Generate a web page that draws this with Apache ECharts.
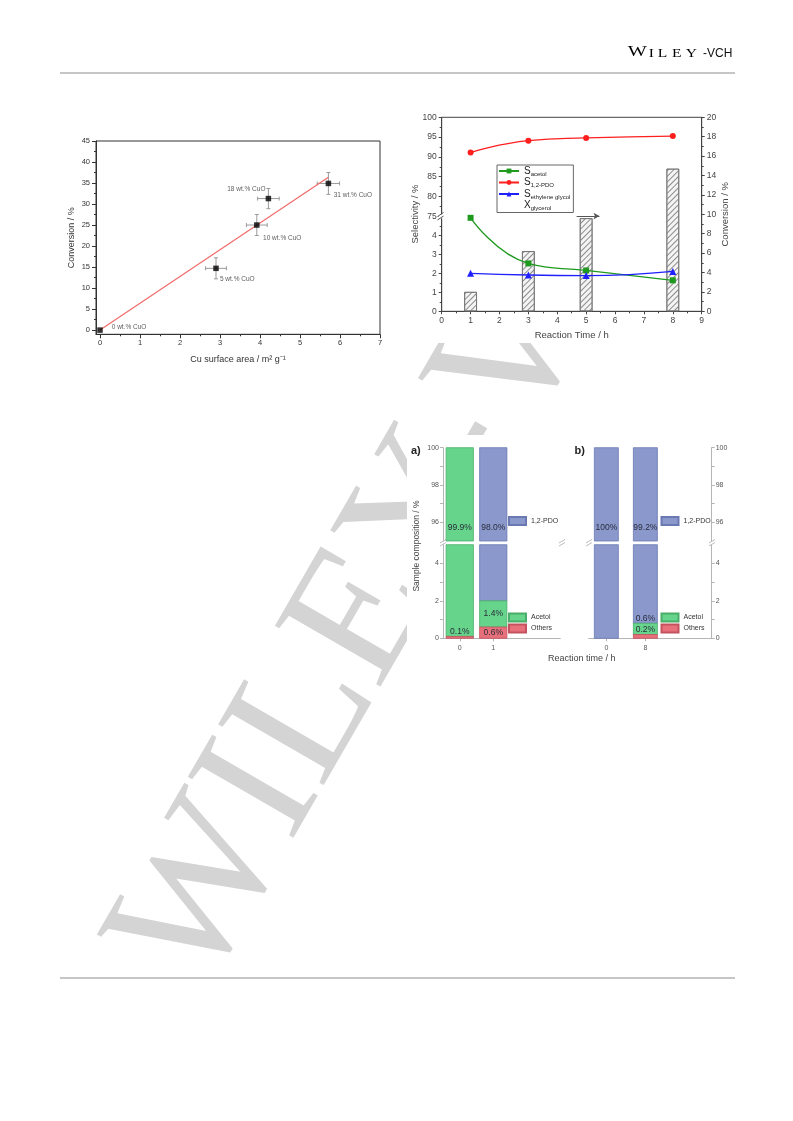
<!DOCTYPE html>
<html><head><meta charset="utf-8">
<script src="https://cdn.jsdelivr.net/npm/echarts@6/dist/echarts.min.js"></script>
<style>html,body{margin:0;padding:0;background:#fff}#c{width:793px;height:1121px}</style>
</head><body><div id="c"></div>
<script>
// ---------- Chart 1: conversion vs Cu surface area ----------
const cuArea = [0, 2.9, 3.92, 4.21, 5.71];
const conversion = [0, 14.7, 25.0, 31.3, 34.9];
const areaErr = [0, 0.26, 0.26, 0.27, 0.28];
const convErr = [0, 2.5, 2.5, 2.4, 2.6];
const sampleNames = ['0 wt.% CuO', '5 wt.% CuO', '10 wt.% CuO', '18 wt.% CuO', '31 wt.% CuO'];
const fitX = [0, 5.71];
const fitY = [0, 36.4];
const areaTicks = [0, 1, 2, 3, 4, 5, 6, 7];
const areaMinorTicks = [0.5, 1.5, 2.5, 3.5, 4.5, 5.5, 6.5];
const convTicks = [0, 5, 10, 15, 20, 25, 30, 35, 40, 45];
const convMinorTicks = [2.5, 7.5, 12.5, 17.5, 22.5, 27.5, 32.5, 37.5, 42.5];

// ---------- Chart 2: selectivity / conversion vs reaction time ----------
const times = [1, 3, 5, 8];
const sPDO = [91.1, 94.1, 94.8, 95.25];
const sAcetol = [4.92, 2.52, 2.15, 1.63];
const sEG = [2.0, 1.91, 1.88, 2.1];
const xGlycerol = [2.0, 6.2, 9.6, 14.7];
const arrowFrom = [4.67, 9.82];
const arrowTo = [5.46, 9.82];

// ---------- Chart 3: sample composition ----------
const catsA = ['0', '1'];
const othersA = [0.1, 0.6];
const acetolA = [99.9, 1.4];
const pdoA = [0, 98.0];
const catsB = ['0', '8'];
const othersB = [0, 0.2];
const acetolB = [0, 0.6];
const pdoB = [100, 99.2];
const compUpperTicks = [96, 98, 100];
const compUpperMinor = [96, 97, 98, 99, 100];
const compLowerTicks = [0, 2, 4];
const compLowerMinor = [0, 1, 2, 3, 4];

const FF = 'Liberation Sans';
const C_GREEN = '#66d48a', C_GREEN_B = '#4aae69';
const C_BLUE = '#8a98cc', C_BLUE_B = '#6a79b2';
const C_RED = '#e8707a', C_RED_B = '#c4525e';

const chart = echarts.init(document.getElementById('c'), null, {renderer: 'canvas', width: 793, height: 1121});

// ---- chart1 helpers
function errRender(params, api) {
  const x = api.value(0), y = api.value(1), ex = api.value(2), ey = api.value(3);
  if (!ex && !ey) return;
  const l = api.coord([x - ex, y]), r = api.coord([x + ex, y]);
  const t = api.coord([x, y + ey]), b = api.coord([x, y - ey]);
  const c = 2;
  const st = {stroke: '#9a9a9a', lineWidth: 1};
  const ln = (x1, y1, x2, y2) => ({type: 'line', shape: {x1, y1, x2, y2}, style: st});
  return {type: 'group', children: [
    ln(l[0], l[1], r[0], r[1]), ln(t[0], t[1], b[0], b[1]),
    ln(l[0], l[1] - c, l[0], l[1] + c), ln(r[0], r[1] - c, r[0], r[1] + c),
    ln(t[0] - c, t[1], t[0] + c, t[1]), ln(b[0] - c, b[1], b[0] + c, b[1])
  ]};
}
const sampleLabelPlacement = [
  {position: 'right', offset: [4, -2.6]},
  {position: 'right', offset: [-3.8, 11.2]},
  {position: 'right', offset: [-1.5, 13.2]},
  {position: 'left', offset: [4.8, -8.9]},
  {position: 'right', offset: [-2.4, 11.9]}
];

// ---- chart3 helpers
function segments(others, acetol, pdo, part) {
  return others.map((o, i) => {
    const a = acetol[i], p = pdo[i];
    if (part === 'Others') return [i, 0, o];
    if (part === 'Acetol') return [i, o, o + a];
    return [i, o + a, o + a + p];
  });
}
function segRender(barW, fill, stroke) {
  return function (params, api) {
    const x = api.value(0), s = api.value(1), e = api.value(2);
    if (!(e - s > 0)) return;
    const cs = params.coordSys;
    const p0 = api.coord([x, s]), p1 = api.coord([x, e]);
    const yTop = Math.max(Math.min(p0[1], p1[1]), cs.y);
    const yBot = Math.min(Math.max(p0[1], p1[1]), cs.y + cs.height);
    if (yBot <= yTop) return;
    return {type: 'rect', shape: {x: p0[0] - barW / 2, y: yTop, width: barW, height: yBot - yTop},
      style: {fill: fill, stroke: stroke, lineWidth: 0.8}};
  };
}
function fmtPct(v) { return (v === 100 ? '100' : v.toFixed(1)) + '%'; }
const txtStyle = (text) => ({text: text, fill: '#2a2d3c', fontSize: 8.5, fontFamily: FF,
  align: 'center', verticalAlign: 'middle', textAlign: 'center', textVerticalAlign: 'middle'});
function panelSeries(tag, axUp, axLow, others, acetol, pdo, barW, lowModes) {
  const parts = [['1,2-PDO', pdo, C_BLUE, C_BLUE_B], ['Acetol', acetol, C_GREEN, C_GREEN_B], ['Others', others, C_RED, C_RED_B]];
  const out = [];
  [axUp, axLow].forEach(ax => {
    parts.forEach(pt => {
      out.push({type: 'custom', name: pt[0], xAxisIndex: ax, yAxisIndex: ax,
        itemStyle: {color: pt[2], borderColor: pt[3], borderWidth: 0.8},
        renderItem: segRender(barW, pt[2], pt[3]), data: segments(others, acetol, pdo, pt[0]), z: 3});
    });
  });
  const upMeta = [];
  others.forEach((o, i) => {
    [pdo[i], acetol[i], others[i]].forEach(v => { if (v >= 95) upMeta.push({i, text: fmtPct(v)}); });
  });
  out.push({type: 'custom', name: 'lblU' + tag, xAxisIndex: axUp, yAxisIndex: axUp, z: 5,
    data: upMeta.map(m => [m.i, 95]),
    renderItem: (params, api) => {
      const m = upMeta[params.dataIndex];
      const p = api.coord([m.i, 95]);
      return {type: 'text', x: p[0], y: p[1] - 13, style: txtStyle(m.text)};
    }});
  const lowMeta = [];
  others.forEach((o, i) => {
    const segs = {Others: [0, o], Acetol: [o, o + acetol[i]]};
    ['Others', 'Acetol'].forEach(k => {
      const v = k === 'Others' ? o : acetol[i];
      if (v > 0 && v < 5) lowMeta.push({i, s: segs[k][0], e: segs[k][1], text: fmtPct(v), mode: lowModes[k][i]});
    });
  });
  out.push({type: 'custom', name: 'lblL' + tag, xAxisIndex: axLow, yAxisIndex: axLow, z: 5,
    data: lowMeta.map(m => [m.i, m.e]),
    renderItem: (params, api) => {
      const m = lowMeta[params.dataIndex];
      const pS = api.coord([m.i, m.s]), pE = api.coord([m.i, m.e]);
      const y = m.mode === 'inside' ? (pS[1] + pE[1]) / 2 : pE[1] - 4.5;
      return {type: 'text', x: pS[0], y: y, style: txtStyle(m.text)};
    }});
  return out;
}

const hiddenX = (g, min, max) => ({gridIndex: g, type: 'value', min, max, show: false});

function compY(g, pos, min, max, labels, ticks) {
  return {gridIndex: g, type: 'value', position: pos, min, max,
    axisLine: {show: true, onZero: false, lineStyle: {color: '#b5b5b5'}},
    axisTick: {show: true, length: 3, customValues: ticks, lineStyle: {color: '#b5b5b5'}},
    axisLabel: {customValues: labels, fontSize: 7, color: '#555', margin: 4, fontFamily: FF},
    splitLine: {show: false}};
}
function compX(g, min, max, cats) {
  return {gridIndex: g, type: 'value', position: 'bottom', min, max,
    axisLine: {show: true, onZero: false, lineStyle: {color: '#b5b5b5'}},
    axisTick: {show: true, length: 3, customValues: cats.map((c, i) => i), lineStyle: {color: '#b5b5b5'}},
    axisLabel: {customValues: cats.map((c, i) => i), formatter: v => cats[Math.round(v)], fontSize: 7, color: '#555', margin: 6, fontFamily: FF},
    splitLine: {show: false}};
}

const legendRich = {
  s: {fontSize: 10, lineHeight: 12, fontFamily: FF, color: '#222'},
  sub: {fontSize: 6, lineHeight: 6, verticalAlign: 'bottom', fontFamily: FF, color: '#222'}
};
const serifBlk = (fs, w) => ({fontSize: fs, fontFamily: 'Liberation Serif', color: '#111', width: w, align: 'center', lineHeight: fs, verticalAlign: 'bottom'});

const option = {
  animation: false,
  backgroundColor: '#fff',
  textStyle: {fontFamily: FF},
  grid: [
    {left: 96, top: 141, width: 284, height: 193.3, show: true, borderColor: '#333', borderWidth: 1, backgroundColor: 'transparent'},
    {left: 441.7, top: 117.3, width: 260, height: 194, show: true, borderColor: '#444', borderWidth: 1, backgroundColor: 'transparent'},
    {left: 441.7, top: 117.3, width: 260, height: 99},
    {left: 441.7, top: 216.3, width: 260, height: 95},
    {left: 443, top: 447.7, width: 117.3, height: 93.3},
    {left: 443, top: 544.7, width: 117.3, height: 93.6},
    {left: 588.8, top: 447.7, width: 122.9, height: 93.3},
    {left: 588.8, top: 544.7, width: 122.9, height: 93.6}
  ],
  xAxis: [
    {gridIndex: 0, type: 'value', position: 'bottom', min: -0.1, max: 7,
      axisLine: {show: true, onZero: false, lineStyle: {color: '#333'}},
      axisTick: {show: true, length: 4, customValues: areaTicks, lineStyle: {color: '#333'}},
      axisLabel: {customValues: areaTicks, fontSize: 7.5, color: '#333', margin: 5, fontFamily: FF},
      splitLine: {show: false},
      name: 'Cu surface area / m\u00B2 g\u207B\u00B9', nameLocation: 'middle', nameGap: 21,
      nameTextStyle: {fontSize: 9, color: '#333', fontFamily: FF}},
    {gridIndex: 0, type: 'value', position: 'bottom', min: -0.1, max: 7,
      axisLine: {show: false, onZero: false}, axisLabel: {show: false}, splitLine: {show: false},
      axisTick: {show: true, length: 2, customValues: areaMinorTicks, lineStyle: {color: '#333'}}},
    {gridIndex: 1, type: 'value', position: 'bottom', min: 0, max: 9, interval: 1,
      axisLine: {show: true, onZero: false, lineStyle: {color: '#444'}},
      axisTick: {show: true, length: 3, lineStyle: {color: '#444'}},
      minorTick: {show: true, splitNumber: 2, length: 2, lineStyle: {color: '#444'}},
      axisLabel: {fontSize: 8.5, color: '#444', margin: 5, fontFamily: FF},
      splitLine: {show: false},
      name: 'Reaction Time / h', nameLocation: 'middle', nameGap: 19,
      nameTextStyle: {fontSize: 9.5, color: '#444', fontFamily: FF}},
    hiddenX(2, 0, 9),
    hiddenX(3, 0, 9),
    hiddenX(4, -0.5, 3.0),
    compX(5, -0.5, 3.0, catsA),
    hiddenX(6, -0.45, 2.7),
    compX(7, -0.45, 2.7, catsB)
  ],
  yAxis: [
    {gridIndex: 0, type: 'value', position: 'left', min: -1, max: 45,
      axisLine: {show: true, onZero: false, lineStyle: {color: '#333'}},
      axisTick: {show: true, length: 4, customValues: convTicks, lineStyle: {color: '#333'}},
      axisLabel: {customValues: convTicks, fontSize: 7.5, color: '#333', margin: 6, fontFamily: FF},
      splitLine: {show: false},
      name: 'Conversion / %', nameLocation: 'middle', nameGap: 20, nameRotate: 90,
      nameTextStyle: {fontSize: 9, color: '#333', fontFamily: FF}},
    {gridIndex: 0, type: 'value', position: 'left', min: -1, max: 45,
      axisLine: {show: false, onZero: false}, axisLabel: {show: false}, splitLine: {show: false},
      axisTick: {show: true, length: 2, customValues: convMinorTicks, lineStyle: {color: '#333'}}},
    {gridIndex: 1, type: 'value', position: 'right', min: 0, max: 20, interval: 2,
      axisLine: {show: true, onZero: false, lineStyle: {color: '#444'}},
      axisTick: {show: true, length: 3, lineStyle: {color: '#444'}},
      minorTick: {show: true, splitNumber: 2, length: 2, lineStyle: {color: '#444'}},
      axisLabel: {fontSize: 8.5, color: '#444', margin: 5, fontFamily: FF},
      splitLine: {show: false},
      name: 'Conversion / %', nameLocation: 'middle', nameGap: 15, nameRotate: 90,
      nameTextStyle: {fontSize: 9.5, color: '#444', fontFamily: FF}},
    {gridIndex: 2, type: 'value', position: 'left', min: 75, max: 100, interval: 5,
      axisLine: {show: true, onZero: false, lineStyle: {color: '#444'}},
      axisTick: {show: true, length: 3, lineStyle: {color: '#444'}},
      minorTick: {show: true, splitNumber: 2, length: 2, lineStyle: {color: '#444'}},
      axisLabel: {fontSize: 8.5, color: '#444', margin: 5, fontFamily: FF},
      splitLine: {show: false}},
    {gridIndex: 3, type: 'value', position: 'left', min: 0, max: 5, interval: 1,
      axisLine: {show: true, onZero: false, lineStyle: {color: '#444'}},
      axisTick: {show: true, length: 3, lineStyle: {color: '#444'}},
      minorTick: {show: true, splitNumber: 2, length: 2, lineStyle: {color: '#444'}},
      axisLabel: {fontSize: 8.5, color: '#444', margin: 5, fontFamily: FF, showMaxLabel: false},
      splitLine: {show: false}},
    compY(4, 'left', 95, 100, compUpperTicks, compUpperMinor),
    compY(5, 'left', 0, 5, compLowerTicks, compLowerMinor),
    compY(6, 'right', 95, 100, compUpperTicks, compUpperMinor),
    compY(7, 'right', 0, 5, compLowerTicks, compLowerMinor)
  ],
  legend: [
    {orient: 'vertical', left: 497, top: 165, itemWidth: 20, itemHeight: 6, itemGap: 0.5,
      padding: [1, 3, 1, 1], borderColor: '#666', borderWidth: 1, backgroundColor: '#fff',
      data: ['S_acetol', 'S_1,2-PDO', 'S_ethylene glycol', {name: 'X_glycerol', icon: 'none'}],
      formatter: n => { const k = n.indexOf('_'); return '{s|' + n.slice(0, k) + '}{sub|' + n.slice(k + 1) + '}'; },
      textStyle: {rich: legendRich, fontSize: 10, color: '#222'}},
    {orient: 'vertical', left: 508, top: 516, itemWidth: 17, itemHeight: 8, icon: 'rect', data: ['1,2-PDO'],
      textStyle: {fontSize: 7, color: '#333', fontFamily: FF}, padding: 0},
    {orient: 'vertical', left: 508, top: 612.5, itemWidth: 17, itemHeight: 8, itemGap: 1, icon: 'rect', data: ['Acetol', 'Others'],
      textStyle: {fontSize: 7, color: '#333', fontFamily: FF}, padding: 0},
    {orient: 'vertical', left: 660.5, top: 516, itemWidth: 17, itemHeight: 8, icon: 'rect', data: ['1,2-PDO'],
      textStyle: {fontSize: 7, color: '#333', fontFamily: FF}, padding: 0},
    {orient: 'vertical', left: 660.5, top: 612.5, itemWidth: 17, itemHeight: 8, itemGap: 1, icon: 'rect', data: ['Acetol', 'Others'],
      textStyle: {fontSize: 7, color: '#333', fontFamily: FF}, padding: 0}
  ],
  series: [
    // chart 1
    {type: 'custom', name: 'errorbars', xAxisIndex: 0, yAxisIndex: 0, z: 3, renderItem: errRender,
      data: cuArea.map((x, i) => [x, conversion[i], areaErr[i], convErr[i]])},
    {type: 'line', name: 'fit', xAxisIndex: 0, yAxisIndex: 0, z: 4, symbol: 'none',
      lineStyle: {color: '#f26a6a', width: 1.2}, data: fitX.map((x, i) => [x, fitY[i]])},
    {type: 'scatter', name: 'samples', xAxisIndex: 0, yAxisIndex: 0, z: 5, symbol: 'rect', symbolSize: 5.5,
      itemStyle: {color: '#000'},
      data: cuArea.map((x, i) => ({value: [x, conversion[i]],
        label: {show: true, position: sampleLabelPlacement[i].position, offset: sampleLabelPlacement[i].offset,
          formatter: sampleNames[i], fontSize: 6.5, color: '#333', fontFamily: FF}}))},
    // chart 2
    {type: 'bar', name: 'X_glycerol', xAxisIndex: 2, yAxisIndex: 2, barWidth: 12.7, z: 1,
      itemStyle: {color: '#f4f4f4', borderColor: '#707070', borderWidth: 0.8,
        decal: {symbol: 'rect', symbolSize: 1, color: '#8c8c8c', dashArrayX: [1, 0], dashArrayY: [1, 2.2], rotation: -Math.PI / 4}},
      data: times.map((t, i) => [t, xGlycerol[i]]),
      markLine: {silent: true, symbol: ['none', 'arrow'], symbolSize: [5, 6], label: {show: false},
        lineStyle: {color: '#555', type: 'solid', width: 1},
        data: [[{coord: arrowFrom}, {coord: arrowTo}]]}},
    {type: 'line', name: 'S_1,2-PDO', xAxisIndex: 3, yAxisIndex: 3, z: 4, smooth: 0.5,
      symbol: 'circle', symbolSize: 6, color: '#ff1f1f', lineStyle: {width: 1.3},
      data: times.map((t, i) => [t, sPDO[i]])},
    {type: 'line', name: 'S_acetol', xAxisIndex: 4, yAxisIndex: 4, z: 4, smooth: 0.5,
      symbol: 'rect', symbolSize: 6, color: '#1e9a1e', lineStyle: {width: 1.3},
      data: times.map((t, i) => [t, sAcetol[i]])},
    {type: 'line', name: 'S_ethylene glycol', xAxisIndex: 4, yAxisIndex: 4, z: 4, smooth: 0.5,
      symbol: 'triangle', symbolSize: 7, color: '#2020ff', lineStyle: {width: 1.3},
      data: times.map((t, i) => [t, sEG[i]])},
    // chart 3 (axis indices: a-upper 5, a-lower 6, b-upper 7, b-lower 8)
    ...panelSeries('A', 5, 6, othersA, acetolA, pdoA, 27.3, {Others: ['above', 'inside'], Acetol: ['inside', 'inside']}),
    ...panelSeries('B', 7, 8, othersB, acetolB, pdoB, 24, {Others: ['above', 'above'], Acetol: ['above', 'above']})
  ],
  graphic: [
    {type: 'text', x: 160, y: 971, rotation: Math.PI / 3, z: -100, silent: true,
      style: {text: 'WILEY-VCH', fill: '#d4d4d4', fontSize: 186, fontFamily: 'Liberation Serif',
        align: 'left', verticalAlign: 'middle', textAlign: 'left', textVerticalAlign: 'middle'}},
    {type: 'rect', z: -50, silent: true, shape: {x: 405, y: 0, width: 388, height: 343}, style: {fill: '#fff'}},
    {type: 'rect', z: -50, silent: true, shape: {x: 407, y: 435, width: 330, height: 230}, style: {fill: '#fff'}},
    // header
    {type: 'text', x: 627, y: 60, scaleX: 1.35, z: 10, style: {
      text: '{w|W}{i|I}{l|L}{e|E}{y|Y}', align: 'left', verticalAlign: 'bottom', textAlign: 'left', textVerticalAlign: 'bottom',
      rich: {w: serifBlk(15, 15.3), i: serifBlk(11.5, 5.6), l: serifBlk(11.5, 10.6), e: serifBlk(11.5, 10.6), y: serifBlk(11.5, 11.2)}}},
    {type: 'text', x: 703, y: 60, z: 10, style: {text: '-VCH', fontSize: 12, fontFamily: FF, fill: '#111',
      align: 'left', verticalAlign: 'bottom', textAlign: 'left', textVerticalAlign: 'bottom', lineHeight: 12}},
    {type: 'line', z: 10, silent: true, shape: {x1: 60, y1: 73, x2: 735, y2: 73}, style: {stroke: '#c6c6c6', lineWidth: 2}},
    {type: 'line', z: 10, silent: true, shape: {x1: 60, y1: 978, x2: 735, y2: 978}, style: {stroke: '#c6c6c6', lineWidth: 2}},
    // chart 2 axis break + title
    {type: 'rect', z: 20, silent: true, shape: {x: 439, y: 214.3, width: 5, height: 4}, style: {fill: '#fff'}},
    {type: 'line', z: 21, silent: true, shape: {x1: 437.5, y1: 216.5, x2: 443.5, y2: 212.5}, style: {stroke: '#444', lineWidth: 0.9}},
    {type: 'line', z: 21, silent: true, shape: {x1: 437.5, y1: 220, x2: 443.5, y2: 216}, style: {stroke: '#444', lineWidth: 0.9}},
    {type: 'text', x: 415, y: 214, rotation: Math.PI / 2, z: 10, style: {text: 'Selectivity / %', fontSize: 9.5, fontFamily: FF, fill: '#444',
      align: 'center', verticalAlign: 'middle', textAlign: 'center', textVerticalAlign: 'middle'}},
    // chart 3 titles and breaks
    {type: 'text', x: 416.7, y: 546, rotation: Math.PI / 2, z: 10, style: {text: 'Sample composition / %', fontSize: 8.5, fontFamily: FF, fill: '#444',
      align: 'center', verticalAlign: 'middle', textAlign: 'center', textVerticalAlign: 'middle'}},
    {type: 'text', x: 581.7, y: 659, z: 10, style: {text: 'Reaction time / h', fontSize: 9, fontFamily: FF, fill: '#444',
      align: 'center', verticalAlign: 'middle', textAlign: 'center', textVerticalAlign: 'middle'}},
    {type: 'text', x: 411, y: 450.5, z: 10, style: {text: 'a)', fontSize: 11, fontWeight: 'bold', fontFamily: FF, fill: '#222',
      align: 'left', verticalAlign: 'middle', textAlign: 'left', textVerticalAlign: 'middle'}},
    {type: 'text', x: 574.5, y: 450.5, z: 10, style: {text: 'b)', fontSize: 11, fontWeight: 'bold', fontFamily: FF, fill: '#222',
      align: 'left', verticalAlign: 'middle', textAlign: 'left', textVerticalAlign: 'middle'}},
    ...[440, 559, 586, 709].map(bx => ({type: 'group', z: 21, silent: true, children: [
      {type: 'line', shape: {x1: bx, y1: 543, x2: bx + 6, y2: 539.5}, style: {stroke: '#aaa', lineWidth: 0.8}},
      {type: 'line', shape: {x1: bx, y1: 546, x2: bx + 6, y2: 542.5}, style: {stroke: '#aaa', lineWidth: 0.8}}
    ]}))
  ]
};
chart.setOption(option);
</script>
</body></html>
